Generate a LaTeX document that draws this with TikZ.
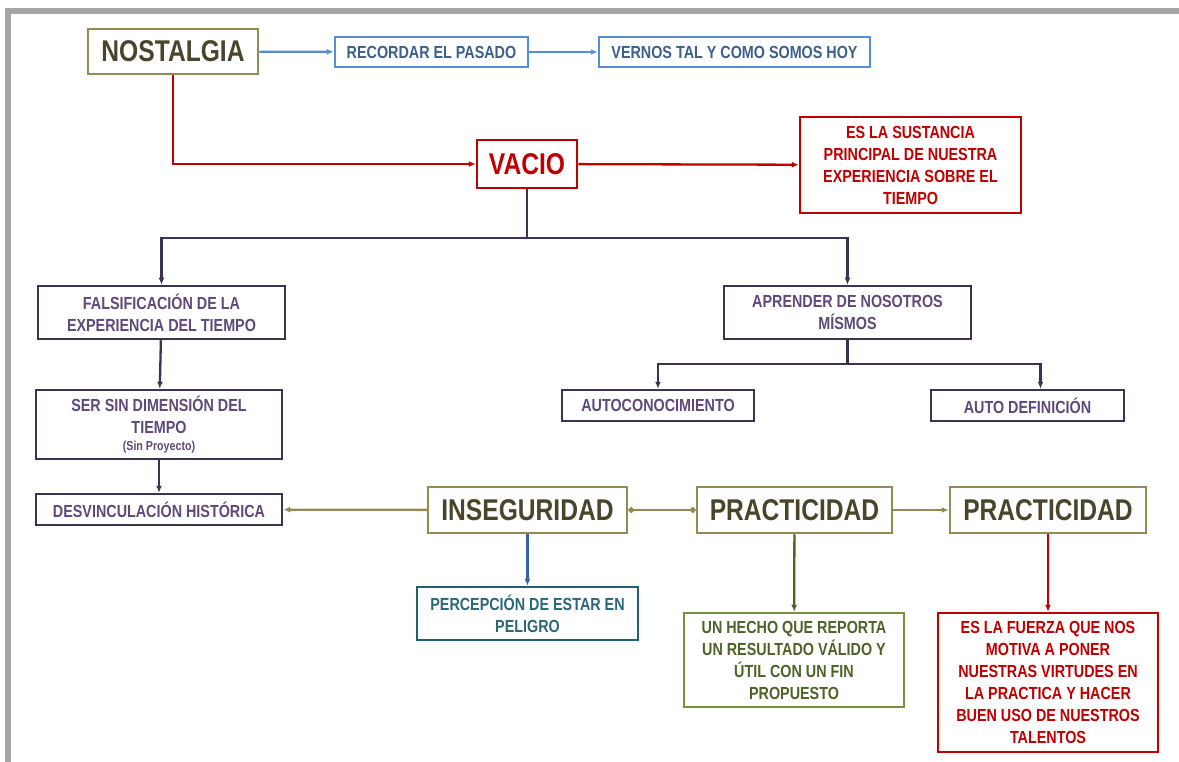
\documentclass[tikz,border=0pt]{standalone}
\usepackage{fontspec}
\setmainfont[FakeStretch=0.82]{Liberation Sans}
\usetikzlibrary{arrows.meta}
\usetikzlibrary{positioning}

\definecolor{framegray}{HTML}{A6A6A6}
\definecolor{olivebox}{HTML}{948A54}
\definecolor{olivetext}{HTML}{4A452A}
\definecolor{bluebox}{HTML}{558ED5}
\definecolor{bluetext}{HTML}{3B5F8E}
\definecolor{redbox}{HTML}{C00000}
\definecolor{purplebox}{HTML}{3F3151}
\definecolor{purpletext}{HTML}{5F497A}
\definecolor{tealbox}{HTML}{245F6E}
\definecolor{tealtext}{HTML}{2A6878}
\definecolor{greenbox}{HTML}{77933C}
\definecolor{greentext}{HTML}{4F6228}
\definecolor{bluearrow}{HTML}{3A62A8}

\tikzstyle{bigbox} = [draw=olivebox, line width=2.5pt, fill=white, text=olivetext, inner sep=0pt, font=\bfseries\fontsize{30}{32}\selectfont]
\tikzstyle{txtbox} = [line width=2.5pt, fill=white, inner sep=0pt, align=center, font=\bfseries\fontsize{17.5}{22}\selectfont]
\tikzstyle{bluebx} = [txtbox, draw=bluebox, text=bluetext]
\tikzstyle{redbx} = [txtbox, draw=redbox, text=redbox]
\tikzstyle{purplebx} = [txtbox, draw=purplebox, text=purpletext]
\tikzstyle{conn} = [line width=2.3pt, ->]
\tikzstyle{dotconn} = [line width=2.3pt, {Circle[length=6pt]}-{Circle[length=6pt]}]

\begin{document}
\begin{tikzpicture}[x=1pt, y=-1pt, >={Latex[length=7pt,width=6pt]}]

  \useasboundingbox (0,0) rectangle (1179,762);
  \draw[framegray, line width=6pt] (8,762) -- (8,11) -- (1179,11);

  % top row
  \node[bigbox, minimum width=170, minimum height=45] (nostalgia) at (173,51.5) {NOSTALGIA};
  \node[bluebx, minimum width=193, minimum height=30] (recordar) at (431.5,52) {RECORDAR EL PASADO};
  \node[bluebx, minimum width=271, minimum height=30] (vernos) at (734.5,52) {VERNOS TAL Y COMO SOMOS HOY};

  \draw[conn, bluebox] (nostalgia) -- (recordar);
  \draw[conn, bluebox] (recordar) -- (vernos);

  % vacio
  \node[bigbox, draw=redbox, text=redbox, minimum width=100, minimum height=48] (vacio) at (527,164) {VACIO};
  \node[redbx, minimum width=221, minimum height=96] (sustancia) at (910.5,165) {ES LA SUSTANCIA\\PRINCIPAL DE NUESTRA\\EXPERIENCIA SOBRE EL\\TIEMPO};

  \draw[conn, redbox] (nostalgia.south) |- (vacio.west);
  \draw[conn, redbox] (vacio) -- (sustancia);

  % purple branch
  \node[purplebx, minimum width=247, minimum height=53] (falsif) at (161.5,312.5) {FALSIFICACIÓN DE LA\\EXPERIENCIA DEL TIEMPO};
  \node[purplebx, minimum width=247, minimum height=53] (aprender) at (847.5,312.5) {APRENDER DE NOSOTROS\\MÍSMOS};
  \node[purplebx, minimum width=246, minimum height=69] (sersin) at (159,424.5) {SER SIN DIMENSIÓN DEL\\TIEMPO\\[-5pt]{\fontsize{13}{15}\selectfont(Sin Proyecto)}};
  \node[purplebx, minimum width=246, minimum height=31] (desvinc) at (159,509.5) {DESVINCULACIÓN HISTÓRICA};
  \node[purplebx, minimum width=192, minimum height=31] (autocon) at (658,405.5) {AUTOCONOCIMIENTO};
  \node[purplebx, minimum width=193, minimum height=31] (autodef) at (1027.5,405.5) {AUTO DEFINICIÓN};

  \draw[line width=2.3pt, purplebox] (vacio.south) -- ++(0,49) coordinate (vsplit);
  \draw[conn, purplebox] (vsplit) -| (falsif.north);
  \draw[conn, purplebox] (vsplit) -| (aprender.north);
  \draw[conn, purplebox] (falsif) -- (sersin);
  \draw[conn, purplebox] (sersin) -- (desvinc);
  \draw[line width=2.3pt, purplebox] (aprender.south) -- ++(0,24) coordinate (asplit);
  \draw[conn, purplebox] (asplit) -| (autocon.north);
  \draw[conn, purplebox] (asplit) -| ([xshift=13pt]autodef.north);

  % bottom row
  \node[bigbox, minimum width=199, minimum height=46] (inseg) at (527.5,510) {INSEGURIDAD};
  \node[bigbox, minimum width=195, minimum height=46] (pract) at (794.5,510) {PRACTICIDAD};
  \node[bigbox, minimum width=196, minimum height=46] (practb) at (1048,510) {PRACTICIDAD};

  \node[txtbox, draw=tealbox, text=tealtext, minimum width=221, minimum height=53] (percep) at (527.5,613.5) {PERCEPCIÓN DE ESTAR EN\\PELIGRO};
  \node[txtbox, draw=greenbox, text=greentext, minimum width=220, minimum height=94] (hecho) at (794,660) {UN HECHO QUE REPORTA\\UN RESULTADO VÁLIDO Y\\ÚTIL CON UN FIN\\PROPUESTO};
  \node[redbx, minimum width=220, minimum height=139] (fuerza) at (1048,682.5) {ES LA FUERZA QUE NOS\\MOTIVA A PONER\\NUESTRAS VIRTUDES EN\\LA PRACTICA Y HACER\\BUEN USO DE NUESTROS\\TALENTOS};

  \draw[conn, olivebox] (inseg) -- (desvinc);
  \draw[dotconn, olivebox] (inseg) -- (pract);
  \draw[conn, olivebox] (pract) -- (practb);
  \draw[conn, bluearrow] (inseg) -- (percep);
  \draw[conn, greentext] (pract) -- (hecho);
  \draw[conn, redbox] (practb) -- (fuerza);

\end{tikzpicture}
\end{document}
